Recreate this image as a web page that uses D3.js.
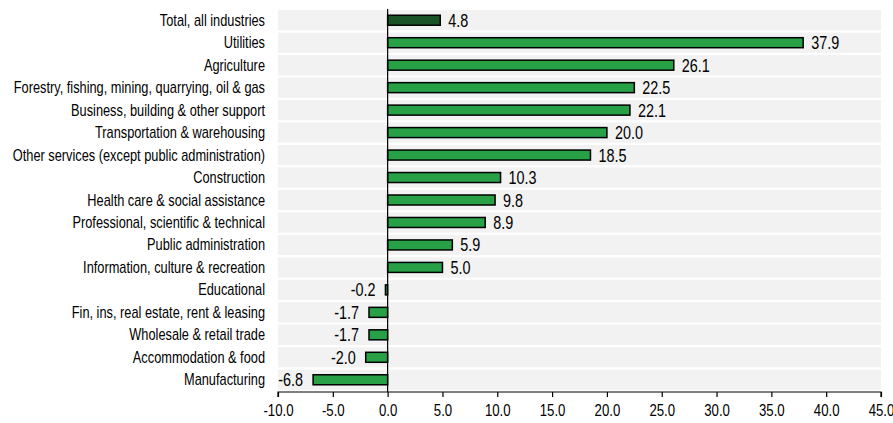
<!DOCTYPE html>
<html><head><meta charset="utf-8">
<script src="https://cdn.jsdelivr.net/npm/d3@7"></script>
<style>body{margin:0;background:#fff}svg text{font-family:"Liberation Sans",Arial,sans-serif;fill:#000}</style>
</head><body><svg id="c" width="893" height="423"></svg>
<script>
const categories=["Total, all industries","Utilities","Agriculture","Forestry, fishing, mining, quarrying, oil & gas","Business, building & other support","Transportation & warehousing","Other services (except public administration)","Construction","Health care & social assistance","Professional, scientific & technical","Public administration","Information, culture & recreation","Educational","Fin, ins, real estate, rent & leasing","Wholesale & retail trade","Accommodation & food","Manufacturing"];
const values=[4.8,37.9,26.1,22.5,22.1,20.0,18.5,10.3,9.8,8.9,5.9,5.0,-0.2,-1.7,-1.7,-2.0,-6.8];
const tickValues=[-10,-5,0,5,10,15,20,25,30,35,40,45];

const SX=0.8;
const svg=d3.select("#c");
const x=d3.scaleLinear().domain([-10,45]).range([278,881]);
const y=d3.scaleBand().domain(categories).range([9,391]).paddingInner(0.1).paddingOuter(0.05);
const bh=10;
const fmt=v=>v.toFixed(1);

svg.append("g").selectAll("rect").data(categories).join("rect")
 .attr("x",x(-10)).attr("width",x(45)-x(-10))
 .attr("y",d=>y(d)).attr("height",y.bandwidth()).attr("fill","#f2f2f2");

const cy=d=>y(d)+y.bandwidth()/2;
svg.append("g").selectAll("rect").data(values).join("rect")
 .attr("x",(v)=>x(Math.min(0,v))).attr("width",v=>Math.abs(x(v)-x(0)))
 .attr("y",(v,i)=>cy(categories[i])-bh/2).attr("height",bh)
 .attr("fill",(v,i)=>i===0?"#1a5227":"#27a046").attr("stroke","#000").attr("stroke-width",1.5);

svg.append("g").selectAll("text").data(values).join("text")
 .attr("transform",(v,i)=>`translate(${v>=0?x(v)+8:x(v)-10},${cy(categories[i])+6.5}) scale(${SX},1)`)
 .attr("text-anchor",v=>v>=0?"start":"end")
 .attr("font-size",18).text(fmt);

svg.append("g").selectAll("text").data(categories).join("text")
 .attr("transform",d=>`translate(265,${cy(d)+5.5}) scale(${SX},1)`).attr("text-anchor","end")
 .attr("font-size",16).text(d=>d);

svg.append("line").attr("x1",x(0)).attr("x2",x(0)).attr("y1",9).attr("y2",392).attr("stroke","#000").attr("stroke-width",1.2);

const ax=svg.append("g").attr("transform","translate(0,392)")
 .call(d3.axisBottom(x).tickValues(tickValues).tickSize(5).tickFormat(fmt));
ax.select(".domain").attr("stroke","#000").attr("stroke-width",1.2).attr("d",`M${x(-10)},5V0H${x(45)}V5`);
ax.selectAll(".tick line").attr("stroke","#000").attr("stroke-width",1.2);
ax.selectAll(".tick text").attr("font-size",16.5).attr("y",0).attr("dy",0)
 .attr("transform",`translate(0,24) scale(${SX},1)`)
 .style("font-family",'"Liberation Sans",Arial,sans-serif');
</script></body></html>
